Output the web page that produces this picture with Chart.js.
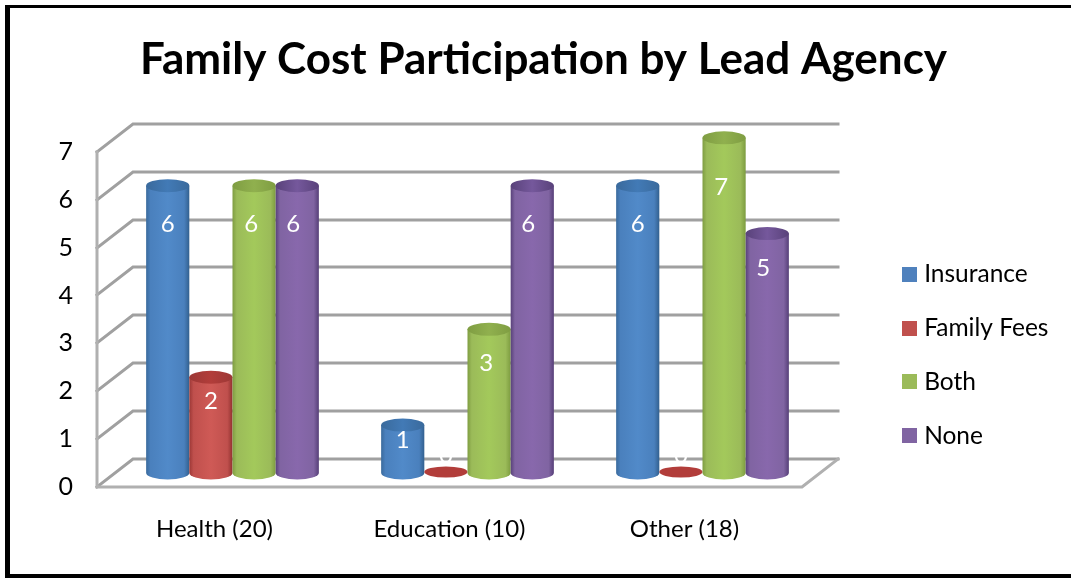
<!DOCTYPE html>
<html>
<head>
<meta charset="utf-8">
<style>html,body{margin:0;padding:0;background:#fff;overflow:hidden}canvas{display:block}</style>
<script src="https://cdn.jsdelivr.net/npm/chart.js@4"></script>
</head>
<body>
<canvas id="c" width="1071" height="578" style="width:1071px;height:578px"></canvas>
<script>
const titleText = "Family Cost Participation by Lead Agency";
const categories = ["Health (20)", "Education (10)", "Other (18)"];
const insurance = [6, 1, 6];
const familyFees = [2, 0, 0];
const both = [6, 3, 7];
const none = [6, 6, 5];
const FONT = "Lato, Carlito, 'Open Sans', sans-serif";

// style: 3D depth of the box and shading per series
const depth = {x: 36, y: -28};
const barShift = {x: 18, y: -14};
const shades = {
  Insurance: ["#3a6a9c", "#4a80bd", "#518ac9", "#32608f", "#427ab6"],
  "Family Fees": ["#9c3836", "#c0504d", "#cf5a56", "#923230", "#b23d3a"],
  Both: ["#7f9d42", "#9bbb59", "#a3c95b", "#7d9c40", "#90b04e"],
  None: ["#59427a", "#8064a2", "#8868ac", "#563f78", "#75589c"]
};
const labelDrop = {0: -18, 1: 15, 2: 24, 3: 34, 5: 35, 6: 39, 7: 49};
const labelNudge = [0, 0, -3, -4];

function swatch(color) {
  const s = document.createElement("canvas");
  s.width = 15; s.height = 15;
  const g = s.getContext("2d");
  g.fillStyle = color; g.fillRect(0, 0, 15, 15);
  return s;
}

const frame = {
  id: "frame",
  beforeDraw(chart) {
    const c = chart.ctx;
    c.save();
    c.fillStyle = "#000";
    c.fillRect(5, 5, 1066, 3);
    c.fillRect(5, 5, 5, 573);
    c.fillRect(5, 574, 1066, 4);
    c.restore();
  }
};

const box3d = {
  id: "box3d",
  beforeDatasetsDraw(chart) {
    const c = chart.ctx, y = chart.scales.y, x = chart.scales.x;
    const L = x.left, R = x.right;
    c.save();
    c.lineCap = "square";
    c.lineJoin = "miter";
    // walls and gridlines from the value scale
    y.ticks.forEach(t => {
      const p = Math.round(y.getPixelForValue(t.value));
      c.beginPath();
      c.moveTo(L, p);
      c.lineTo(L + depth.x, p + depth.y);
      c.lineTo(R + depth.x, p + depth.y);
      c.strokeStyle = "#a0a0a0";
      c.lineWidth = 3;
      c.stroke();
    });
    const b = Math.round(y.getPixelForValue(0));
    c.strokeStyle = "#b0b0b0";
    c.lineWidth = 3;
    c.beginPath();
    c.moveTo(L, Math.round(y.getPixelForValue(7)));
    c.lineTo(L, b);
    c.lineTo(R, b);
    c.lineTo(R + depth.x, b + depth.y);
    c.stroke();
    c.restore();

    // cylinders
    chart.data.datasets.forEach((ds, i) => {
      const s = shades[ds.label];
      chart.getDatasetMeta(i).data.forEach((el, k) => {
        const p = el.getProps(["x", "y", "base", "width"], true);
        const cx = p.x + barShift.x, top = p.y + barShift.y, bot = p.base + barShift.y;
        const hw = p.width / 2;
        const v = ds.data[k];
        if (v === 0) {
          c.fillStyle = s[4];
          c.beginPath();
          c.ellipse(cx, bot - 1, hw, 5.5, 0, 0, Math.PI * 2);
          c.fill();
          return;
        }
        const ry = 6.5;
        const g = c.createLinearGradient(cx - hw, 0, cx + hw, 0);
        g.addColorStop(0, s[0]);
        g.addColorStop(0.1, s[1]);
        g.addColorStop(0.5, s[2]);
        g.addColorStop(0.88, s[1]);
        g.addColorStop(1, s[3]);
        c.fillStyle = g;
        c.beginPath();
        c.moveTo(cx - hw, top);
        c.lineTo(cx - hw, bot);
        c.ellipse(cx, bot, hw, ry, 0, Math.PI, 0, true);
        c.lineTo(cx + hw, top);
        c.closePath();
        c.fill();
        const t = c.createLinearGradient(cx - hw, 0, cx + hw, 0);
        t.addColorStop(0, s[0]);
        t.addColorStop(0.5, s[4]);
        t.addColorStop(1, s[0]);
        c.fillStyle = t;
        c.beginPath();
        c.ellipse(cx, top, hw, ry, 0, 0, Math.PI * 2);
        c.fill();
      });
    });

    // value labels
    c.save();
    c.fillStyle = "#fff";
    c.font = "24px " + FONT;
    c.textAlign = "center";
    c.textBaseline = "middle";
    chart.data.datasets.forEach((ds, i) => {
      chart.getDatasetMeta(i).data.forEach((el, k) => {
        const p = el.getProps(["x", "y"], true);
        const v = ds.data[k];
        c.fillText(String(v), p.x + barShift.x + labelNudge[i], p.y + barShift.y + labelDrop[v]);
      });
    });
    c.restore();
    return false;
  }
};

const legendPlace = {
  id: "legendPlace",
  beforeLayout(chart) {
    const l = chart.legend;
    if (!l._wrapped) {
      const fit = l.fit;
      l.fit = function () { fit.call(this); this.width = 269; };
      l._wrapped = true;
    }
  },
  afterLayout(chart) {
    const l = chart.legend;
    l.left = 878; l.right = 1071;
    l.top = 66; l.bottom = 578 + 66;
  }
};

new Chart(document.getElementById("c"), {
  type: "bar",
  data: {
    labels: categories,
    datasets: [
      {label: "Insurance", data: insurance, backgroundColor: "#4f81bd"},
      {label: "Family Fees", data: familyFees, backgroundColor: "#c0504d"},
      {label: "Both", data: both, backgroundColor: "#9bbb59"},
      {label: "None", data: none, backgroundColor: "#8064a2"}
    ]
  },
  plugins: [frame, legendPlace, box3d],
  options: {
    responsive: false,
    animation: false,
    layout: {padding: {left: 16, right: 0, top: 0, bottom: 0}},
    datasets: {bar: {categoryPercentage: 0.735, barPercentage: 1}},
    scales: {
      x: {
        grid: {display: false},
        border: {display: false},
        ticks: {color: "#000", font: {family: FONT, size: 24}, padding: 20, maxRotation: 0},
        afterFit(s) { s.height = 91; }
      },
      y: {
        min: 0, max: 7,
        grid: {display: false},
        border: {display: false},
        ticks: {stepSize: 1, color: "#000", font: {family: FONT, size: 25}, padding: 16},
        afterFit(s) { s.width = 81; }
      }
    },
    plugins: {
      title: {
        display: true,
        text: titleText,
        color: "#000",
        font: {family: FONT, size: 44, weight: "bold"},
        padding: {top: 33, bottom: 66}
      },
      legend: {
        display: true,
        position: "right",
        align: "center",
        labels: {
          usePointStyle: true,
          pointStyleWidth: 4.5,
          boxHeight: 15,
          padding: 29.4,
          color: "#000",
          font: {family: FONT, size: 24.5},
          generateLabels(chart) {
            const items = Chart.defaults.plugins.legend.labels.generateLabels(chart);
            items.forEach(i => { i.pointStyle = swatch(i.fillStyle); });
            return items;
          }
        }
      },
      tooltip: {enabled: false}
    }
  }
});
</script>
</body>
</html>
